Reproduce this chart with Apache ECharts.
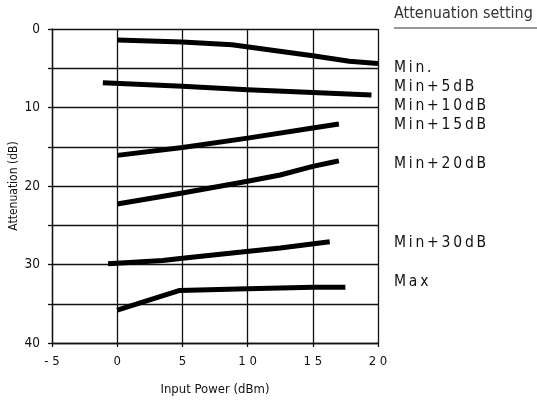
<!DOCTYPE html>
<html>
<head>
<meta charset="utf-8">
<script src="https://cdn.jsdelivr.net/npm/echarts@6/dist/echarts.min.js"></script>
<style>
  html, body { margin: 0; padding: 0; background: #fff; }
  #chart { width: 537px; height: 404px; }
</style>
</head>
<body>
<div id="chart"></div>
<script>
// Attenuation vs. input power, one curve per attenuation setting
var settingNames = ['Min.', 'Min+5dB', 'Min+10dB', 'Min+15dB', 'Min+20dB', 'Min+30dB', 'Max'];

// [input power dBm, attenuation dB]
var curveMin   = [[0, 1.4], [5, 1.65], [8.8, 2.0], [15, 3.4], [17.8, 4.1], [20, 4.4]];
var curveMin5  = [[-1.1, 6.85], [5, 7.3], [10, 7.75], [15, 8.1], [19.5, 8.4]];
var curveMin10 = [[0, 16.1], [5, 15.1], [10, 13.9], [15, 12.6], [17, 12.1]];
var curveMin20 = [[0, 22.3], [5, 20.9], [10, 19.4], [12.5, 18.6], [15, 17.5], [16.4, 17.0], [17, 16.8]];
var curveMin30 = [[-0.7, 29.9], [3.5, 29.5], [5, 29.2], [9, 28.5], [12.5, 27.9], [16.3, 27.1]];
var curveMax   = [[0, 35.8], [4.8, 33.3], [10, 33.1], [15, 32.9], [17.5, 32.9]];

var xTicks = { min: -5, max: 20, step: 5 };
var yTicks = { min: 0, max: 40, step: 5, labelEvery: 10 };

// pixel rows for the setting labels beside the plot
var settingLabelY = [68, 87, 106, 125, 164, 243, 282];

var curves = [curveMin, curveMin5, curveMin10, curveMin20, curveMin30, curveMax];
var seriesNames = ['Min.', 'Min+5dB', 'Min+10dB', 'Min+20dB', 'Min+30dB', 'Max'];

var ink = '#111';
var narrow = '"Liberation Sans Narrow", "DejaVu Sans Condensed", "Liberation Sans", sans-serif';

function spaced(s, sep) { return String(s).split('').join(sep); }

var chart = echarts.init(document.getElementById('chart'), null, { renderer: 'canvas' });

var graphics = [
  {
    type: 'text', x: 394, y: 14,
    style: { text: 'Attenuation setting', fontFamily: narrow, fontSize: 16, fill: '#333', verticalAlign: 'middle' }
  },
  {
    type: 'line', shape: { x1: 394, y1: 28, x2: 537, y2: 28 },
    style: { stroke: '#333', lineWidth: 1 }
  }
];
settingNames.forEach(function (n, i) {
  graphics.push({
    type: 'text', x: 394, y: settingLabelY[i],
    style: { text: spaced(n, '\u2009'), fontFamily: narrow, fontSize: 15.5, fill: ink, verticalAlign: 'middle' }
  });
});

chart.setOption({
  animation: false,
  backgroundColor: '#fff',
  grid: { left: 52, right: 159, top: 29, bottom: 61, containLabel: false, outerBoundsMode: 'none' },
  xAxis: {
    type: 'value',
    min: xTicks.min, max: xTicks.max, interval: xTicks.step,
    name: 'Input Power (dBm)', nameLocation: 'middle', nameGap: 40, nameMoveOverlap: false,
    nameTextStyle: { fontFamily: narrow, fontSize: 13, color: ink },
    axisLine: { show: true, onZero: false, lineStyle: { color: ink, width: 1.3 } },
    axisTick: { show: true, inside: false, length: 4, lineStyle: { color: ink, width: 1.3 } },
    axisLabel: {
      fontFamily: narrow, fontSize: 13, color: ink, margin: 12,
      formatter: function (v) { return spaced(v, ' '); }
    },
    splitLine: { show: true, lineStyle: { color: ink, width: 1.3 } }
  },
  yAxis: {
    type: 'value', inverse: true,
    min: yTicks.min, max: yTicks.max, interval: yTicks.step,
    name: 'Attenuation (dB)', nameLocation: 'middle', nameGap: 32, nameRotate: 90, nameMoveOverlap: false,
    nameTextStyle: { fontFamily: narrow, fontSize: 12, color: ink },
    axisLine: { show: true, onZero: false, lineStyle: { color: ink, width: 1.3 } },
    axisTick: { show: true, inside: false, length: 4, lineStyle: { color: ink, width: 1.3 } },
    axisLabel: {
      fontFamily: narrow, fontSize: 13.5, color: ink, margin: 12,
      formatter: function (v) { return v % yTicks.labelEvery === 0 ? String(v) : ''; }
    },
    splitLine: { show: true, lineStyle: { color: ink, width: 1.3 } }
  },
  graphic: graphics,
  series: curves.map(function (c, i) {
    return {
      name: seriesNames[i],
      type: 'line',
      data: c,
      symbol: 'none',
      smooth: false,
      lineStyle: { color: '#000', width: 5, cap: 'butt', join: 'round' },
      z: 5
    };
  })
});
</script>
</body>
</html>
